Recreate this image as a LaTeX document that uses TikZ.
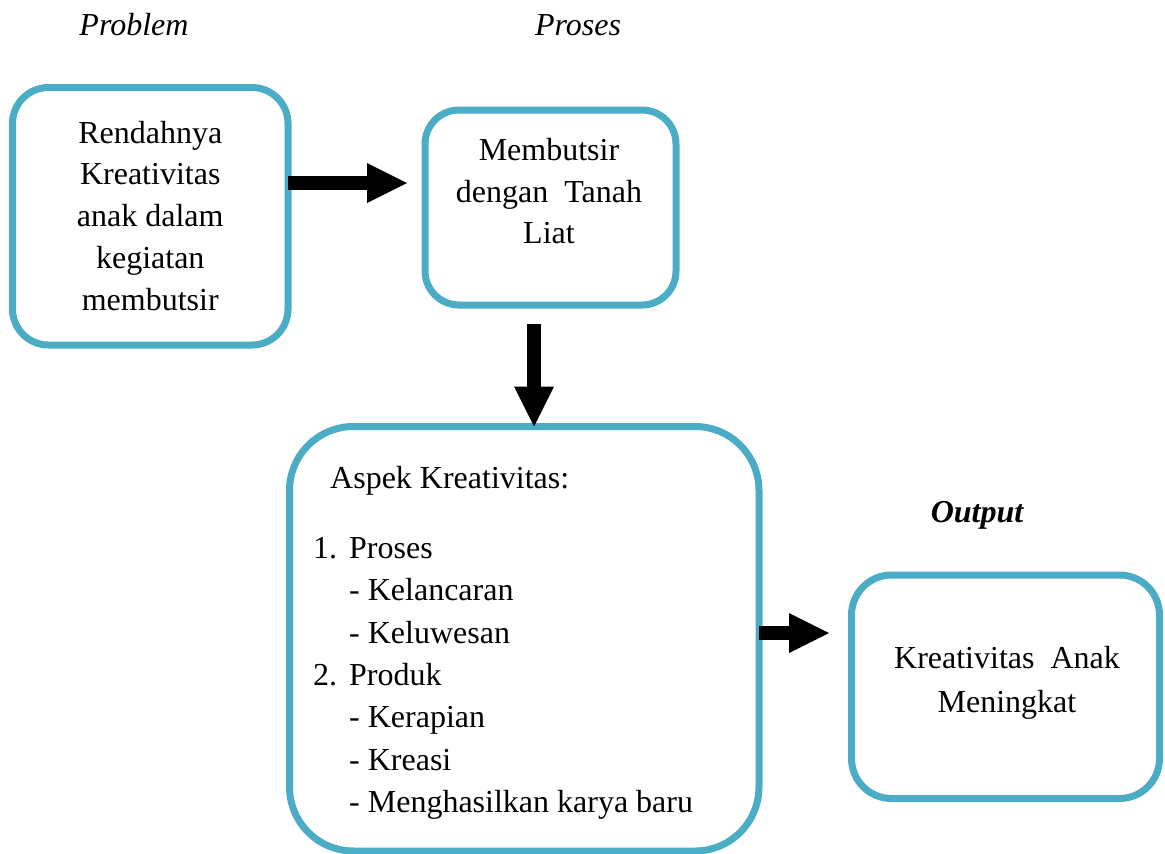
\documentclass[tikz,border=0pt]{standalone}
\usepackage{fontspec}
\setmainfont{Liberation Serif}
\usetikzlibrary{arrows.meta,calc}
\definecolor{boxcol}{RGB}{75,172,198}
\begin{document}
\begin{tikzpicture}[x=1pt,y=-1pt,
  box/.style={draw=boxcol, line width=7pt, rectangle, inner sep=0pt, outer sep=0pt, fill=white},
  txt/.style={inner sep=0pt, font=\fontsize{32}{42}\selectfont},
  bigarrow/.style={draw=black, line width=14pt, -{Triangle[length=40pt,width=40pt,line width=0pt]}}]
\useasboundingbox (0,0) rectangle (1165,854);

% titles
\node[txt, anchor=base] (tprob) at (134,35) {\itshape Problem};
\node[txt, anchor=base] (tpros) at (578,35) {\itshape Proses};
\node[txt, anchor=base] (tout) at (977,522) {\bfseries\itshape Output};

% boxes
\node[box, rounded corners=36pt, minimum width=275.5pt, minimum height=257.5pt] (b1) at (150.25,216.25) {};
\node[box, rounded corners=34pt, minimum width=251pt, minimum height=195pt] (b2) at (550.5,207.5) {};
\node[box, rounded corners=64pt, minimum width=469.5pt, minimum height=424.5pt] (b3) at (524.25,638.75) {};
\node[box, rounded corners=40pt, minimum width=308pt, minimum height=223.5pt] (b4) at (1005.5,686.75) {};

% box 1 text
\foreach \t [count=\i] in {Rendahnya, Kreativitas, anak dalam, kegiatan, membutsir}
  \node[txt, anchor=base] (t1-\i) at ({150.25},{143+41.75*(\i-1)}) {\t};

% box 2 text
\node[txt, anchor=base] (t2-1) at (549,160) {Membutsir};
\node[txt, anchor=base] (t2-2) at (549,202) {dengan\ \ Tanah};
\node[txt, anchor=base] (t2-3) at (549,243) {Liat};

% box 3 text
\node[txt, anchor=base west] (t3-0) at (330,488) {Aspek Kreativitas:};
\node[txt, anchor=base west] (n1) at (313,558) {1.};
\node[txt, anchor=base west] (t3-1) at (349,558) {Proses};
\node[txt, anchor=base west] (t3-2) at (349,600) {- Kelancaran};
\node[txt, anchor=base west] (t3-3) at (349,643) {- Keluwesan};
\node[txt, anchor=base west] (n2) at (313,685) {2.};
\node[txt, anchor=base west] (t3-4) at (349,685) {Produk};
\node[txt, anchor=base west] (t3-5) at (349,727) {- Kerapian};
\node[txt, anchor=base west] (t3-6) at (349,770) {- Kreasi};
\node[txt, anchor=base west] (t3-7) at (349,812) {- Menghasilkan karya baru};

% box 4 text
\node[txt, anchor=base] (t4-1) at (1007,668) {Kreativitas\ \ Anak};
\node[txt, anchor=base] (t4-2) at (1007,712) {Meningkat};

% arrows
\coordinate (a1) at ($(b1.east)+(0,-33.25)$);
\draw[bigarrow, shorten >=18pt] (a1) -- (a1 -| b2.west);
\coordinate (a2) at ($(b2.south)+(-16.5,0)$);
\draw[bigarrow, shorten <=19pt] (a2) -- (a2 |- b3.north);
\coordinate (a3) at ($(b3.east)+(0,-5.75)$);
\draw[bigarrow, shorten >=22.5pt] (a3) -- (a3 -| b4.west);
\end{tikzpicture}
\end{document}
